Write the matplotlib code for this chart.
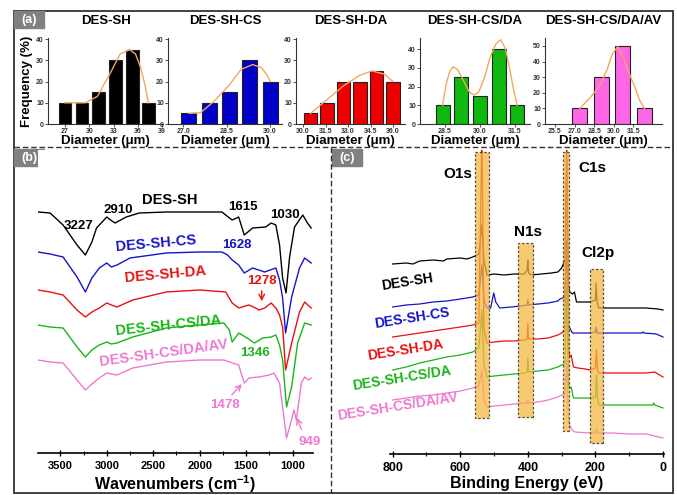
import matplotlib
matplotlib.use('Agg')
import matplotlib.pyplot as plt
from matplotlib.patches import Rectangle
from matplotlib.ticker import MultipleLocator, FormatStrFormatter

plt.rcParams['font.family'] = ['Liberation Sans', 'DejaVu Sans']
plt.rcParams['font.weight'] = 'bold'
plt.rcParams['axes.titleweight'] = 'bold'
plt.rcParams['axes.labelweight'] = 'bold'
plt.rcParams['mathtext.fontset'] = 'custom'
plt.rcParams['mathtext.bf'] = 'Liberation Sans:bold'
plt.rcParams['mathtext.default'] = 'bf'

# ---- (a) fibre diameter histograms ----
sh_d = [27.0, 29.1, 31.1, 33.2, 35.3, 37.3]
sh_f = [10, 10, 15, 30, 35, 10]
sh_fit_d = [27.0, 28.5, 29.5, 31.0, 32.6, 33.8, 35.0, 35.7, 36.3, 36.9, 37.3]
sh_fit_f = [10, 10, 10, 13, 24, 33, 35, 33, 27, 18, 10]

cs_d = [27.2, 27.9, 28.6, 29.3, 30.0]
cs_f = [5, 10, 15, 30, 20]
cs_fit_d = [27.2, 27.6, 28.05, 28.6, 29.0, 29.4, 29.7, 29.9, 30.0]
cs_fit_f = [5, 5.3, 10.5, 18.5, 25.7, 28, 26.5, 23, 20]

da_d = [30.5, 31.6, 32.7, 33.8, 34.9, 36.0]
da_f = [5, 10, 20, 20, 25, 20]
da_fit_d = [30.5, 31.6, 32.7, 33.8, 34.6, 35.4, 36.0]
da_fit_f = [5, 11.5, 18, 23, 25, 23.5, 20]

csda_d = [28.4, 29.2, 30.0, 30.8, 31.6]
csda_f = [10, 25, 15, 40, 10]
csda_fit_d = [28.4, 28.55, 28.7, 28.85, 29.05, 29.3, 29.55, 29.75, 29.95, 30.2,
              30.45, 30.7, 30.9, 31.1, 31.3, 31.45, 31.6]
csda_fit_f = [10, 21, 28, 30.5, 29, 23, 17, 15.5, 17, 25, 36, 43, 45, 40, 28, 18, 10]

av_d = [27.4, 29.05, 30.7, 32.35]
av_f = [10, 30, 50, 10]
av_fit_d = [27.4, 28.2, 28.9, 29.5, 29.9, 30.3, 30.8, 31.2, 31.6, 32.0, 32.35]
av_fit_f = [10, 17, 24, 35, 45, 49.5, 41, 32, 24, 15, 10]

# ---- (b) FTIR ----
wn_sh = [3740, 3610, 3470, 3320, 3230, 3160, 3110, 3000, 2960, 2910, 2850, 2790, 2650,
         2360, 2000, 1760, 1720, 1650, 1580, 1520, 1430, 1290, 1230, 1180, 1140, 1107,
         1070, 1032, 979, 890, 840, 800]
t_sh = [248, 247, 235, 215, 205, 218, 232, 243, 240, 237, 240, 243, 247,
        248, 248, 248, 245, 240, 243, 225, 232, 233, 237, 235, 215, 182,
        167, 203, 233, 245, 237, 232]
wn_cs = [3740, 3610, 3470, 3320, 3230, 3160, 3080, 3000, 2950, 2890, 2750, 2360, 2000,
         1760, 1700, 1650, 1580, 1520, 1430, 1300, 1180, 1140, 1107, 1075, 1010, 925,
         870, 800]
t_cs = [208, 206, 203, 183, 168, 182, 192, 197, 193, 195, 202, 207, 208,
        208, 205, 200, 195, 187, 192, 188, 192, 180, 162, 127, 163, 192,
        202, 197]
wn_da = [3740, 3610, 3470, 3320, 3230, 3160, 3080, 3000, 2950, 2890, 2720, 2360, 2000,
         1720, 1650, 1580, 1470, 1400, 1360, 1300, 1230, 1180, 1140, 1107, 1075, 1010,
         925, 870, 800]
t_da = [170, 168, 165, 150, 143, 148, 152, 157, 155, 153, 160, 168, 170,
        168, 157, 152, 155, 152, 150, 152, 157, 152, 145, 133, 90, 117,
        148, 158, 152]
wn_csda = [3740, 3610, 3470, 3320, 3230, 3160, 3080, 3000, 2950, 2890, 2720, 2360, 2000,
           1740, 1680, 1650, 1580, 1490, 1410, 1320, 1230, 1180, 1140, 1107, 1065, 1010,
           945, 870, 800]
t_csda = [135, 133, 132, 113, 103, 110, 115, 118, 116, 117, 123, 132, 135,
          137, 130, 118, 127, 122, 117, 122, 123, 125, 115, 100, 53, 73,
          117, 137, 135]
wn_av = [3740, 3610, 3470, 3320, 3230, 3160, 3080, 3000, 2950, 2890, 2720, 2360, 2000,
         1740, 1580, 1520, 1470, 1360, 1250, 1200, 1140, 1107, 1065, 1020, 985, 960,
         930, 905, 870, 830, 800]
t_av = [100, 98, 97, 80, 70, 76, 82, 87, 86, 85, 92, 98, 100,
        100, 95, 77, 82, 83, 85, 87, 77, 53, 22, 37, 50, 40,
        60, 77, 83, 80, 82]

# ---- (c) XPS survey ----
be_sh = [800, 760, 740, 720, 680, 650, 640, 600, 580, 563, 545, 536, 530, 521, 500, 470,
         440, 410, 402, 400, 398, 390, 360, 330, 311, 300, 290, 285, 280, 276, 268, 262,
         256, 240, 216, 200, 198, 195, 190, 150, 100, 50, 15, 0]
i_sh = [196, 197, 196, 199, 200, 199, 201, 202, 201, 203, 206, 235, 200, 185, 186, 185,
        186, 186, 190, 200, 187, 185, 186, 187, 188, 192, 200, 300, 175, 168, 166, 168,
        158, 158, 158, 160, 177, 158, 152, 152, 152, 152, 151, 150]
be_cs = [800, 760, 720, 680, 640, 600, 563, 545, 536, 530, 521, 510, 501, 495, 483, 450,
         420, 402, 400, 398, 370, 340, 311, 305, 290, 285, 280, 276, 268, 240, 216, 200,
         198, 195, 150, 100, 62, 59, 56, 20, 0]
i_cs = [153, 155, 156, 158, 159, 161, 163, 165, 195, 160, 152, 152, 167, 158, 152, 153,
        154, 155, 160, 155, 156, 157, 159, 161, 163, 220, 134, 132, 127, 127, 127, 128,
        133, 127, 127, 127, 127, 128, 127, 126, 123]
be_da = [800, 760, 720, 680, 640, 600, 563, 545, 536, 530, 521, 500, 470, 440, 410, 402,
         400, 398, 370, 340, 311, 300, 290, 285, 280, 276, 272, 265, 252, 230, 216, 200,
         197, 194, 190, 150, 100, 50, 24, 20, 0]
i_da = [123, 125, 127, 129, 131, 133, 135, 137, 330, 130, 117, 118, 119, 119, 120, 121,
        137, 121, 121, 122, 125, 127, 130, 330, 110, 103, 105, 93, 92, 91, 90, 92,
        110, 90, 87, 87, 87, 87, 88, 87, 83]
be_csda = [800, 760, 720, 680, 640, 600, 563, 550, 545, 536, 530, 521, 500, 470, 440, 410,
           402, 400, 398, 370, 340, 311, 300, 290, 285, 280, 276, 272, 265, 250, 216, 200,
           197, 194, 190, 150, 100, 30, 27, 24, 0]
i_csda = [90, 93, 97, 100, 103, 105, 108, 111, 112, 150, 95, 83, 84, 85, 86, 87,
          88, 102, 88, 89, 90, 93, 95, 96, 180, 75, 72, 73, 62, 62, 62, 63,
          85, 62, 55, 55, 55, 55, 57, 55, 52]
be_av = [800, 760, 720, 680, 640, 600, 563, 545, 536, 530, 521, 500, 470, 440, 410, 402,
         400, 398, 370, 340, 311, 300, 290, 285, 280, 276, 270, 260, 216, 200, 197, 194,
         150, 100, 50, 0]
i_av = [60, 62, 64, 65, 67, 69, 72, 74, 90, 60, 53, 54, 55, 56, 57, 57,
        60, 57, 58, 60, 63, 65, 66, 100, 40, 35, 30, 28, 27, 27, 31, 27,
        27, 26, 26, 22]

# highlighted XPS regions: (high BE, low BE, bottom, top)
regions = [(557, 516, 42, 308), (430, 385, 43, 217), (296, 279, 29, 308), (216, 178, 17, 191)]

BLACK, BLUE, RED, GREEN, PINK = '#000000', '#1414c8', '#e81010', '#18b418', '#ee78d0'
FIT = '#f0a860'

W, H = 677, 495
fig = plt.figure(figsize=(W / 100, H / 100), dpi=100)


def px(x0, y0, x1, y1):
    return [x0 / W, 1 - y1 / H, (x1 - x0) / W, (y1 - y0) / H]


def bold_ticks(ax):
    for t in ax.get_xticklabels() + ax.get_yticklabels():
        t.set_fontweight('bold')


# frame and panel separators
bg = fig.add_axes([0, 0, 1, 1])
bg.set_xlim(0, W)
bg.set_ylim(H, 0)
bg.axis('off')
bg.add_patch(Rectangle((14, 11), 659, 482, fill=False, ec='#333333', lw=1.3))
bg.plot([14, 673], [147, 147], color='#333333', lw=1, ls=(0, (4, 2)))
bg.plot([331, 331], [147, 493], color='#333333', lw=1, ls=(0, (4, 2)))
for lx, ly, lab in [(14, 11, '(a)'), (14, 149, '(b)'), (332, 149, '(c)')]:
    bg.add_patch(Rectangle((lx, ly), 30, 17, color='#808080'))
    bg.text(lx + 15, ly + 8.5, lab, color='white', fontsize=9, ha='center', va='center')

# ---- (a) ----
hists = [
    ('DES-SH', sh_d, sh_f, sh_fit_d, sh_fit_f, BLACK, 1.6, (48, 163), (24.9, 39.1), 40.5,
     [27, 30, 33, 36, 39], '%d'),
    ('DES-SH-CS', cs_d, cs_f, cs_fit_d, cs_fit_f, '#0000c8', 0.52, (168, 282), (26.48, 30.41), 40.5,
     [27.0, 28.5, 30.0], '%.1f'),
    ('DES-SH-DA', da_d, da_f, da_fit_d, da_fit_f, '#ee0000', 0.9, (296, 405), (29.53, 36.8), 40.5,
     [30.0, 31.5, 33.0, 34.5, 36.0], '%.1f'),
    ('DES-SH-CS/DA', csda_d, csda_f, csda_fit_d, csda_fit_f, '#10b810', 0.6, (420, 530), (27.43, 32.15), 45.9,
     [28.5, 30.0, 31.5], '%.1f'),
    ('DES-SH-CS/DA/AV', av_d, av_f, av_fit_d, av_fit_f, '#ff66e6', 1.15, (545, 662), (24.73, 33.7), 55.1,
     [25.5, 27.0, 28.5, 30.0, 31.5], '%.1f'),
]
for i, (name, d, f, fd, ff, col, w, (x0, x1), xl, ytop, xt, fmt) in enumerate(hists):
    ax = fig.add_axes(px(x0, 38, x1, 124))
    ax.bar(d, f, width=w, color=col, edgecolor='#222222', linewidth=0.8, zorder=2)
    ax.plot(fd, ff, color=FIT, lw=1.0, zorder=3)
    ax.set_xlim(*xl)
    ax.set_ylim(0, ytop)
    ax.set_xticks(xt)
    ax.xaxis.set_major_formatter(FormatStrFormatter(fmt))
    ax.yaxis.set_major_locator(MultipleLocator(10))
    for s in ['top', 'right']:
        ax.spines[s].set_visible(False)
    for s in ['left', 'bottom']:
        ax.spines[s].set_linewidth(0.8)
        ax.spines[s].set_color('#333333')
    ax.tick_params(labelsize=5, length=2, width=0.6, pad=1, colors='#333333')
    bold_ticks(ax)
    ax.set_xlabel('Diameter (μm)', fontsize=9.5, labelpad=0)
    ax.set_title(name, fontsize=9.5, pad=10)
    if i == 0:
        ax.set_ylabel('Frequency (%)', fontsize=9.5, labelpad=2)

# ---- (b) FTIR ----
axb = fig.add_axes(px(38, 150, 313, 453))
ftir = [(wn_sh, t_sh, BLACK), (wn_cs, t_cs, BLUE), (wn_da, t_da, RED),
        (wn_csda, t_csda, GREEN), (wn_av, t_av, PINK)]
for x, y, c in ftir:
    axb.plot(x, y, color=c, lw=1.0)
axb.set_xlim(3740, 780)
axb.set_ylim(7, 310)
axb.set_yticks([])
for s in ['top', 'right', 'left']:
    axb.spines[s].set_visible(False)
axb.spines['bottom'].set_linewidth(1.2)
axb.xaxis.set_major_locator(MultipleLocator(500))
axb.xaxis.set_minor_locator(MultipleLocator(250))
axb.tick_params(axis='x', which='major', direction='inout', length=5, width=1, labelsize=8, pad=3)
axb.tick_params(axis='x', which='minor', direction='inout', length=3, width=0.8)
bold_ticks(axb)
axb.set_xlabel(r'Wavenumbers (cm$^{-1}$)', fontsize=11.5, labelpad=2)

axb.text(2318, 260, 'DES-SH', color=BLACK, fontsize=10.5, ha='center', va='center')
axb.text(3304, 234, '3227', color=BLACK, fontsize=9.5, ha='center', va='center')
axb.text(2876, 250, '2910', color=BLACK, fontsize=9.5, ha='center', va='center')
axb.text(1536, 253, '1615', color=BLACK, fontsize=9.5, ha='center', va='center')
axb.text(1086, 245, '1030', color=BLACK, fontsize=9.5, ha='center', va='center')
axb.text(2468, 217, 'DES-SH-CS', color=BLUE, fontsize=10.5, ha='center', va='center', rotation=5)
axb.text(1600, 215, '1628', color=BLUE, fontsize=9.5, ha='center', va='center')
axb.text(2372, 186, 'DES-SH-DA', color=RED, fontsize=10.5, ha='center', va='center', rotation=5)
axb.text(1332, 179, '1278', color=RED, fontsize=9.5, ha='center', va='center')
axb.annotate('', xy=(1332, 156), xytext=(1332, 172),
             arrowprops=dict(arrowstyle='->', color=RED, lw=1))
axb.text(2340, 135, 'DES-SH-CS/DA', color=GREEN, fontsize=10.5, ha='center', va='center', rotation=6)
axb.text(1407, 107, '1346', color=GREEN, fontsize=9.5, ha='center', va='center')
axb.text(2393, 107, 'DES-SH-CS/DA/AV', color=PINK, fontsize=10.5, ha='center', va='center', rotation=8)
axb.text(1729, 55, '1478', color=PINK, fontsize=9.5, ha='center', va='center')
axb.annotate('', xy=(1525, 78), xytext=(1675, 63),
             arrowprops=dict(arrowstyle='->', color=PINK, lw=1))
axb.text(818, 18, '949', color=PINK, fontsize=9.5, ha='center', va='center')
axb.annotate('', xy=(968, 45), xytext=(893, 28),
             arrowprops=dict(arrowstyle='->', color=PINK, lw=1))

# ---- (c) XPS ----
axc = fig.add_axes(px(390, 150, 664, 454))
xps = [(be_sh, i_sh, BLACK), (be_cs, i_cs, BLUE), (be_da, i_da, RED),
       (be_csda, i_csda, GREEN), (be_av, i_av, PINK)]
for x, y, c in xps:
    axc.plot(x, y, color=c, lw=0.9)
for hi, lo, b, t in regions:
    axc.add_patch(Rectangle((lo, b), hi - lo, t - b, facecolor='#f5b742', alpha=0.75,
                            edgecolor='#222222', lw=0.9, ls=(0, (2, 1.5)), zorder=4))
axc.set_xlim(808, -3)
axc.set_ylim(6, 310)
axc.set_yticks([])
for s in ['top', 'right', 'left']:
    axc.spines[s].set_visible(False)
axc.spines['bottom'].set_linewidth(1.2)
axc.xaxis.set_major_locator(MultipleLocator(200))
axc.xaxis.set_minor_locator(MultipleLocator(100))
axc.tick_params(axis='x', which='major', direction='inout', length=5, width=1, labelsize=9, pad=3)
axc.tick_params(axis='x', which='minor', direction='inout', length=3, width=0.8)
bold_ticks(axc)
axc.set_xlabel('Binding Energy (eV)', fontsize=11.5, labelpad=2)

for lab, x, y in [('O1s', 607, 286), ('C1s', 210, 292), ('N1s', 400, 228), ('Cl2p', 193, 207)]:
    axc.text(x, y, lab, fontsize=11, ha='center', va='center')
for lab, x, y, c in [('DES-SH', 756, 178, BLACK), ('DES-SH-CS', 744, 142, BLUE),
                     ('DES-SH-DA', 764, 110, RED), ('DES-SH-CS/DA', 773, 82, GREEN),
                     ('DES-SH-CS/DA/AV', 785, 53, PINK)]:
    axc.text(x, y, lab, color=c, fontsize=10, ha='center', va='center', rotation=9)

fig.savefig('out.png', dpi=100)
